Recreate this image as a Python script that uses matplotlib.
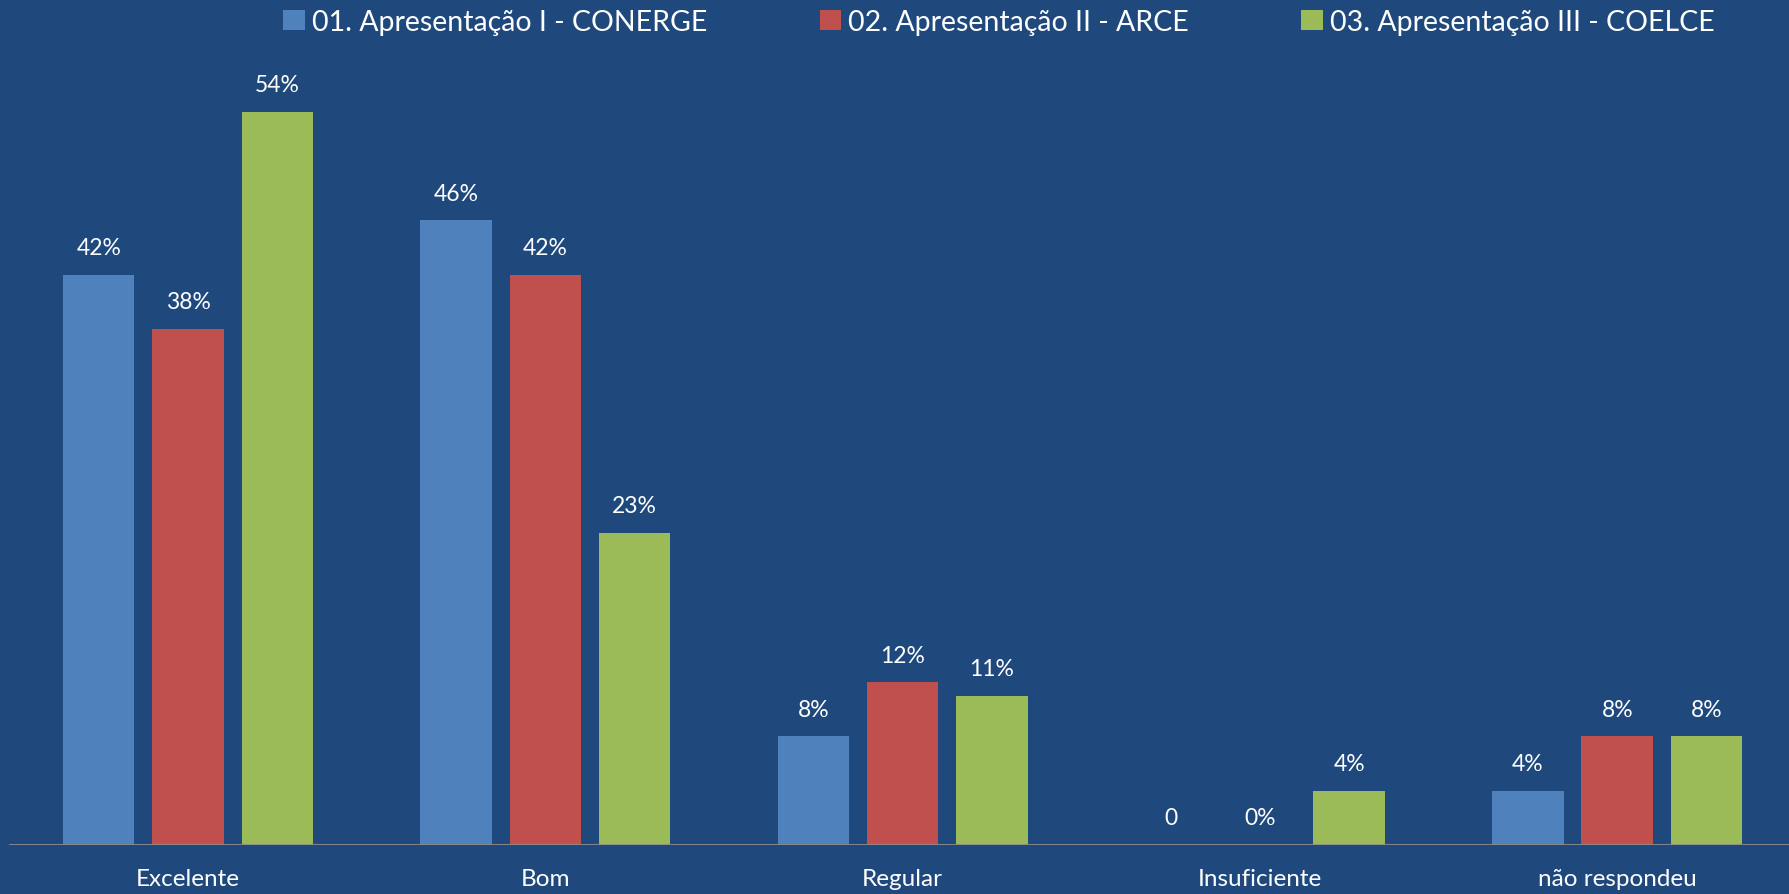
import matplotlib
matplotlib.use("Agg")
import matplotlib.pyplot as plt
import numpy as np
from matplotlib.patches import Patch

categories = ["Excelente", "Bom", "Regular", "Insuficiente", "não respondeu"]
series_names = ["01. Apresentação I - CONERGE", "02. Apresentação II - ARCE", "03. Apresentação III - COELCE"]
conerge = [42, 46, 8, 0, 4]
arce = [38, 42, 12, 0, 8]
coelce = [54, 23, 11, 4, 8]
label_conerge = ["42%", "46%", "8%", "0", "4%"]
label_arce = ["38%", "42%", "12%", "0%", "8%"]
label_coelce = ["54%", "23%", "11%", "4%", "8%"]

colors = ["#4F81BD", "#C0504D", "#9BBB59"]
bg = "#1F497D"

plt.rcParams['font.family'] = ['Lato', 'DejaVu Sans']

W, H = 1789, 895
fig = plt.figure(figsize=(W / 100, H / 100), dpi=100, facecolor=bg)
axis_y = 846
ax = fig.add_axes([0, (H - axis_y) / H, 1, axis_y / H])
ax.set_facecolor(bg)

period = 357.3
c0 = 188
ax.set_xlim(-c0 / period, (W - c0) / period)
pct_px = 13.58
ax.set_ylim(0, axis_y / pct_px)

x = np.arange(len(categories))
off = 0.25
width = 0.2
data = [conerge, arce, coelce]
labels = [label_conerge, label_arce, label_coelce]
for i, (vals, labs, col) in enumerate(zip(data, labels, colors)):
    xs = x + (i - 1) * off
    ax.bar(xs, vals, width, color=col, zorder=2)
    for xi, v, lab in zip(xs, vals, labs):
        ax.annotate(lab, (xi, v), xytext=(0, 27), textcoords='offset pixels',
                    ha='center', va='center', color='white', fontsize=16.5)

for s in ax.spines.values():
    s.set_visible(False)
ax.set_xticks([])
ax.set_yticks([])
ax.axhline(0, xmin=10 / W, xmax=1, color="#8C8C8C", lw=2, zorder=3)

for xi, cat in zip(x, categories):
    fig.text((c0 + xi * period) / W, (H - 880) / H, cat, ha='center', va='center',
             color='white', fontsize=17.5)

handles = [Patch(facecolor=c, edgecolor='none') for c in colors]
leg = fig.legend(handles, series_names, loc='center', bbox_to_anchor=(999 / W, 1 - 23 / H),
                 ncol=3, frameon=False, fontsize=20.5, labelcolor='white',
                 handlelength=0.75, handleheight=0.75, handletextpad=0.25, columnspacing=3.95)

fig.savefig("out.png", dpi=100, facecolor=bg)
